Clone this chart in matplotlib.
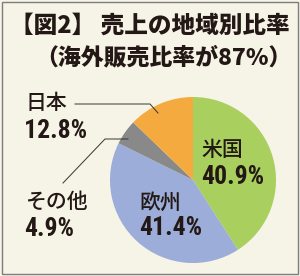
import matplotlib
matplotlib.use("Agg")
import matplotlib.pyplot as plt
from matplotlib.patches import Rectangle

# Data
categories = ["米国", "欧州", "その他", "日本"]
values = [40.9, 41.4, 4.9, 12.8]
value_labels = ["40.9%", "41.4%", "4.9%", "12.8%"]
colors = ["#a9cf5e", "#9badd8", "#898989", "#f4aa3e"]
title1 = "【図2】 売上の地域別比率"
title2 = "（海外販売比率が87%）"

W, H = 300, 276
BG = "#f6f4e7"
TXT = "#231815"
cjk = ["Noto Sans CJK JP", "DejaVu Sans"]
num_font = ["Roboto Condensed", "DejaVu Sans"]

fig = plt.figure(figsize=(W / 100, H / 100), dpi=100)
fig.patch.set_facecolor(BG)

# border
fig.add_artist(Rectangle((1.5 / W, 2.5 / H), (W - 3.5) / W, (H - 4) / H,
                         transform=fig.transFigure, fill=False,
                         edgecolor="#7d7d7d", linewidth=1.0))

# pie axes: center (193,180) px, radius 83
cx, cy, r = 193, 180, 83
ax = fig.add_axes([(cx - r) / W, (H - cy - r) / H, 2 * r / W, 2 * r / H])
ax.pie(values, colors=colors, startangle=90, counterclock=False,
       wedgeprops=dict(linewidth=0))
ax.set_xlim(-1, 1)
ax.set_ylim(-1, 1)
ax.set_aspect("auto")
ax.axis("off")

# overlay axes in pixel coordinates
ov = fig.add_axes([0, 0, 1, 1], facecolor="none")
ov.set_xlim(0, W)
ov.set_ylim(H, 0)
ov.axis("off")

ov.text(150, 25, title1, ha="center", va="center", fontsize=17,
        fontweight=900, color=TXT, family=cjk)
ov.text(163, 58, title2, ha="center", va="center", fontsize=16.5,
        fontweight=900, color=TXT, family=cjk)

# label positions (name xy, value xy)
label_pos = {
    "米国": ((201, 150), (201, 177)),
    "欧州": ((139, 203), (139, 228)),
    "その他": ((26, 202), (24, 229)),
    "日本": ((26, 103), (24, 131)),
}
for cat, vl in zip(categories, value_labels):
    (nx, ny), (vx, vy) = label_pos[cat]
    ov.text(nx, ny, cat, ha="left", va="center", fontsize=15,
            fontweight=500, color=TXT, family=cjk)
    ov.text(vx, vy, vl, ha="left", va="center", fontsize=18.5,
            fontweight="bold", color=TXT, family=num_font)

# leader lines
ov.plot([75, 150, 158], [104, 104, 113], color="#333333", lw=0.7)
ov.plot([63, 105, 128], [183, 139, 139], color="#333333", lw=0.7)

fig.savefig("out.png", dpi=100, facecolor=BG)
